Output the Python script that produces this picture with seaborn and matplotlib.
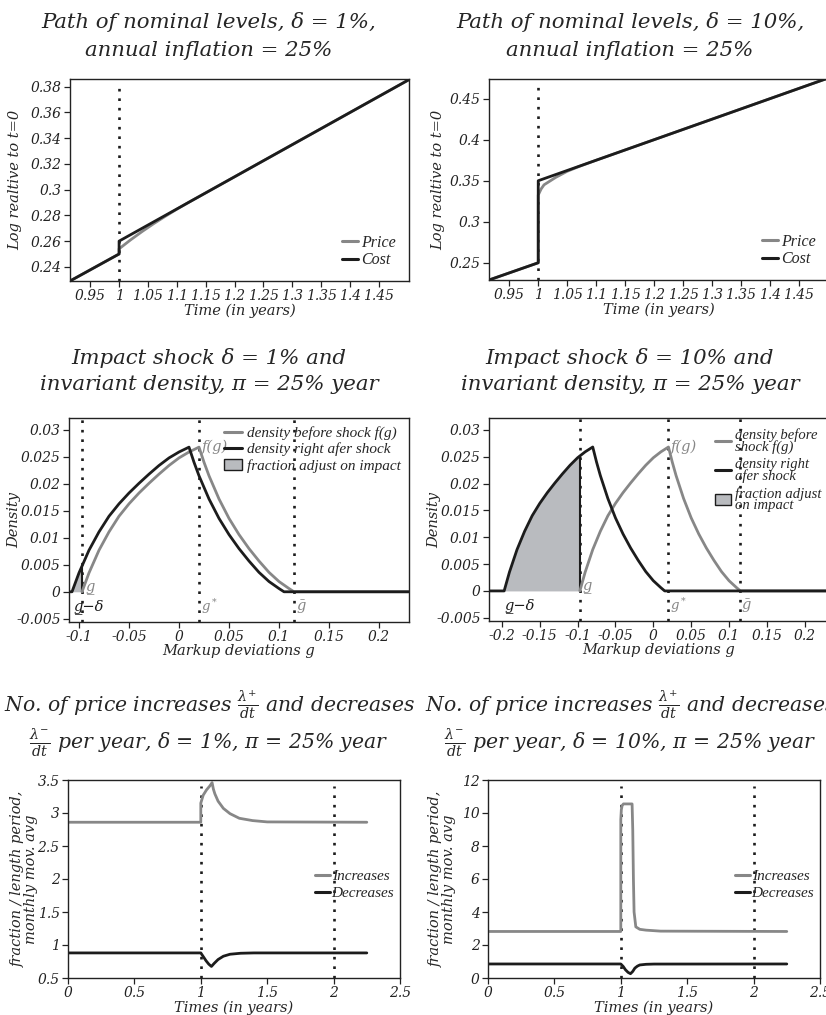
import numpy as np
import matplotlib
matplotlib.use('Agg')
import matplotlib.pyplot as plt
import seaborn as sns
from matplotlib.lines import Line2D
from matplotlib.patches import Patch
from matplotlib.ticker import FuncFormatter

# ---- data ----
# top row: log level relative to t=0
t_cost_1 = [0.915, 1.0, 1.0, 1.504]
cost_1 = [0.229, 0.25, 0.26, 0.386]
t_price_1 = [0.915, 1.0, 1.0, 1.01, 1.02, 1.04, 1.06, 1.08, 1.10, 1.12, 1.504]
price_1 = [0.229, 0.25, 0.254, 0.2575, 0.261, 0.2675, 0.2736, 0.2793, 0.2848, 0.29, 0.386]

t_cost_10 = [0.915, 1.0, 1.0, 1.504]
cost_10 = [0.229, 0.25, 0.35, 0.476]
t_price_10 = [0.915, 1.0, 1.0, 1.005, 1.01, 1.02, 1.03, 1.05, 1.07, 1.10, 1.504]
price_10 = [0.229, 0.25, 0.3325, 0.340, 0.345, 0.3495, 0.354, 0.3615, 0.3672, 0.375, 0.476]

# middle row: invariant density f(g) before the shock
g_pts = [-0.097, -0.09, -0.08, -0.07, -0.06, -0.05, -0.04, -0.03, -0.02, -0.01, 0.0, 0.01,
         0.02, 0.025, 0.03, 0.04, 0.05, 0.06, 0.07, 0.08, 0.09, 0.10, 0.11, 0.115]
dens = [0.0, 0.0035, 0.0077, 0.0111, 0.0140, 0.0163, 0.0183, 0.0201, 0.0218, 0.0234, 0.0248, 0.0259,
        0.0268, 0.0240, 0.0215, 0.0172, 0.0136, 0.0106, 0.0080, 0.0057, 0.0036, 0.0019, 0.0006, 0.0]
g_low, g_star, g_high = -0.097, 0.02, 0.115
deltas = [0.01, 0.10]

# bottom row: price increases / decreases per year
t_inc_1 = [0, 1.0, 1.0, 1.018, 1.043, 1.068, 1.085, 1.095, 1.106, 1.13, 1.17, 1.22, 1.29, 1.39, 1.5, 2.25]
inc_1 = [2.86, 2.86, 3.15, 3.27, 3.35, 3.41, 3.46, 3.36, 3.29, 3.18, 3.07, 2.99, 2.92, 2.885, 2.865, 2.86]
t_dec_1 = [0, 1.0, 1.02, 1.04, 1.06, 1.08, 1.1, 1.13, 1.17, 1.22, 1.3, 1.4, 2.25]
dec_1 = [0.88, 0.88, 0.82, 0.76, 0.71, 0.675, 0.72, 0.78, 0.83, 0.86, 0.875, 0.88, 0.88]

t_inc_10 = [0, 1.0, 1.0, 1.004, 1.01, 1.02, 1.085, 1.09, 1.095, 1.10, 1.113, 1.143, 1.19, 1.3, 2.25]
inc_10 = [2.82, 2.82, 9.6, 10.2, 10.45, 10.55, 10.55, 9.0, 6.0, 4.0, 3.1, 2.95, 2.9, 2.84, 2.82]
t_dec_10 = [0, 1.0, 1.018, 1.035, 1.055, 1.073, 1.09, 1.106, 1.125, 1.143, 1.19, 1.25, 2.25]
dec_10 = [0.85, 0.85, 0.70, 0.50, 0.34, 0.26, 0.40, 0.60, 0.72, 0.79, 0.83, 0.845, 0.85]

GREY = '#878787'
BLACK = '#1c1c1c'
FILL = '#b9bbbf'

sns.set_theme(style='ticks')
plt.rcParams['font.family'] = ['DejaVu Serif']
plt.rcParams['font.style'] = 'italic'
plt.rcParams['mathtext.fontset'] = 'dejavuserif'
plt.rcParams['axes.unicode_minus'] = False

fig = plt.figure(figsize=(8.26, 10.15), dpi=100)

W, H = 826, 1015
def add_ax(l, t, r, b):
    return fig.add_axes([l / W, 1 - b / H, (r - l) / W, (b - t) / H])

ax_tl = add_ax(70, 79, 409, 281)
ax_tr = add_ax(489, 79, 829, 280)
ax_ml = add_ax(69, 418, 409, 622)
ax_mr = add_ax(489, 418, 829, 621)
ax_bl = add_ax(68, 780, 400, 978)
ax_br = add_ax(488, 780, 820, 978)

fmt = FuncFormatter(lambda v, p: ('%g' % (round(v, 6) + 0.0)))

def style(ax):
    for s in ax.spines.values():
        s.set_linewidth(1.0)
        s.set_color('#222222')
    ax.tick_params(direction='out', length=4, width=0.9, labelsize=10, pad=2, colors='#222222')
    ax.xaxis.set_major_formatter(fmt)
    ax.yaxis.set_major_formatter(fmt)
    for lab in ax.get_xticklabels() + ax.get_yticklabels():
        lab.set_fontstyle('italic')

def vdot(ax, x, top=1.0):
    ax.axvline(x, ymin=0, ymax=top, color=BLACK, lw=1.9, ls=(0, (1, 2.6)), zorder=1)

LW = 2.0
LEGFONT = {'family': 'Liberation Serif', 'style': 'italic', 'size': 10.5}

# ---- top row ----
for ax, tp, pp, tc, cc, yt, ylim, ylx in [
        (ax_tl, t_price_1, price_1, t_cost_1, cost_1, np.arange(0.24, 0.381, 0.02), (0.229, 0.386), -0.142),
        (ax_tr, t_price_10, price_10, t_cost_10, cost_10, np.arange(0.25, 0.451, 0.05), (0.229, 0.474), -0.13)]:
    vdot(ax, 1.0, 0.97)
    sns.lineplot(x=tp, y=pp, ax=ax, color=GREY, lw=LW, estimator=None, sort=False)
    sns.lineplot(x=tc, y=cc, ax=ax, color=BLACK, lw=LW, estimator=None, sort=False)
    ax.set_xlim(0.915, 1.502)
    ax.set_ylim(*ylim)
    ax.set_xticks(np.arange(0.95, 1.451, 0.05))
    ax.set_yticks(yt)
    style(ax)
    ax.set_xlabel('Time (in years)', fontsize=10.5, labelpad=0)
    ax.set_ylabel('Log realtive to t=0', fontsize=10.5)
    ax.yaxis.set_label_coords(ylx, 0.5)
    ax.legend(handles=[Line2D([], [], color=GREY, lw=2.2, label='Price'),
                       Line2D([], [], color=BLACK, lw=2.2, label='Cost')],
              loc='lower right', frameon=False, prop=dict(LEGFONT, size=11.5), handlelength=1.0,
              handletextpad=0.2, labelspacing=0.1, borderaxespad=0.4)

# ---- middle row ----
g_arr = np.array(g_pts)
d_arr = np.array(dens)
for ax, delta, xlim, xt, wrap in [
        (ax_ml, deltas[0], (-0.11, 0.23), np.arange(-0.1, 0.201, 0.05), False),
        (ax_mr, deltas[1], (-0.217, 0.232), np.arange(-0.2, 0.201, 0.05), True)]:
    for gx in (g_low, g_star, g_high):
        vdot(ax, gx)
    # shaded fraction that adjusts on impact
    gs = g_arr - delta
    keep = gs <= g_low
    fx = np.append(gs[keep], g_low)
    fy = np.append(d_arr[keep], np.interp(g_low, gs, d_arr))
    ax.fill_between(fx, 0, fy, color=FILL, lw=0, zorder=2)
    ax.plot([g_low, g_low], [0, fy[-1]], color=BLACK, lw=1.5, zorder=3)
    sns.lineplot(x=list(g_arr) + [xlim[1]], y=list(d_arr) + [0.0], ax=ax, color=GREY, lw=LW,
                 estimator=None, sort=False, zorder=3)
    sns.lineplot(x=[xlim[0]] + list(gs) + [xlim[1]], y=[0.0] + list(d_arr) + [0.0], ax=ax,
                 color=BLACK, lw=LW, estimator=None, sort=False, zorder=4)
    ax.set_xlim(*xlim)
    ax.set_ylim(-0.0056, 0.0322)
    ax.set_xticks(xt)
    ax.set_yticks(np.arange(-0.005, 0.0301, 0.005))
    style(ax)
    ax.set_xlabel('Markup deviations g', fontsize=10.5, labelpad=0)
    ax.set_ylabel('Density', fontsize=10.5)
    ax.yaxis.set_label_coords(-0.14, 0.5)
    ax.text(g_star + 0.003, 0.0268, 'f(g)', color=GREY, fontsize=10.5, va='center', ha='left')
    ax.text(g_low + 0.003, 0.0009, 'g\u0332', color=GREY, fontsize=10.5, va='center', ha='left')
    ax.text(g_star + 0.002, -0.0027, '$g^*$', color=GREY, fontsize=9.5, va='center', ha='left')
    ax.text(g_high + 0.002, -0.0027, '\u1e21', color=GREY, fontsize=10.5, va='center', ha='left')
    ax.text(g_low - delta + 0.001, -0.0027, 'g\u0332\u2212\u03b4', color=BLACK, fontsize=10.5,
            va='center', ha='left')
    if wrap:
        labs = ['density before\nshock f(g)', 'density right\nafer shock', 'fraction adjust\non impact']
        leg = ax.legend(handles=[Line2D([], [], color=GREY, lw=2.2, label=labs[0]),
                                 Line2D([], [], color=BLACK, lw=2.2, label=labs[1]),
                                 Patch(facecolor=FILL, edgecolor=BLACK, label=labs[2])],
                        loc='upper right', bbox_to_anchor=(1.008, 1.0), frameon=False,
                        prop=LEGFONT, handlelength=1.1, handletextpad=0.3, labelspacing=0.3,
                        borderaxespad=0.3)
        for t in leg.get_texts():
            t.set_linespacing(0.8)
    else:
        labs = ['density before shock f(g)', 'density right afer shock', 'fraction adjust on impact']
        ax.legend(handles=[Line2D([], [], color=GREY, lw=2.2, label=labs[0]),
                           Line2D([], [], color=BLACK, lw=2.2, label=labs[1]),
                           Patch(facecolor=FILL, edgecolor=BLACK, label=labs[2])],
                  loc='upper right', bbox_to_anchor=(1.0, 1.0), frameon=False,
                  prop=dict(LEGFONT, size=11), handlelength=1.2, handletextpad=0.3,
                  labelspacing=0.15, borderaxespad=0.15)

# ---- bottom row ----
for ax, ti, vi, td, vd, ylim, yt, ylx in [
        (ax_bl, t_inc_1, inc_1, t_dec_1, dec_1, (0.5, 3.5), np.arange(0.5, 3.51, 0.5), -0.09),
        (ax_br, t_inc_10, inc_10, t_dec_10, dec_10, (0, 12), np.arange(0, 12.1, 2), -0.096)]:
    vdot(ax, 1.0, 0.97)
    vdot(ax, 2.0, 0.97)
    sns.lineplot(x=ti, y=vi, ax=ax, color=GREY, lw=LW, estimator=None, sort=False)
    sns.lineplot(x=td, y=vd, ax=ax, color=BLACK, lw=LW, estimator=None, sort=False)
    ax.set_xlim(0, 2.5)
    ax.set_ylim(*ylim)
    ax.set_xticks(np.arange(0, 2.51, 0.5))
    ax.set_yticks(yt)
    style(ax)
    ax.set_xlabel('Times (in years)', fontsize=10.5, labelpad=0)
    ax.set_ylabel('fraction / length period,\nmonthly mov. avg', fontsize=10.5, linespacing=0.95)
    ax.yaxis.set_label_coords(ylx, 0.5)
    ax.legend(handles=[Line2D([], [], color=GREY, lw=2.2, label='Increases'),
                       Line2D([], [], color=BLACK, lw=2.2, label='Decreases')],
              loc='center left', bbox_to_anchor=(0.725, 0.47), frameon=False, borderaxespad=0,
              prop=dict(LEGFONT, size=11), handlelength=1.0, handletextpad=0.1, labelspacing=0.2)

# ---- titles ----
def title(xc, y, s, size=15.3):
    fig.text(xc / W, 1 - y / H, s, ha='center', va='center', fontsize=size, style='italic')

title(209, 22, 'Path of nominal levels, δ = 1%,')
title(209, 50, 'annual inflation = 25%')
title(630, 22, 'Path of nominal levels, δ = 10%,')
title(630, 50, 'annual inflation = 25%')
title(209, 358, 'Impact shock δ = 1% and')
title(209, 385, 'invariant density, π = 25% year')
title(630, 358, 'Impact shock δ = 10% and')
title(630, 385, 'invariant density, π = 25% year')
title(209, 705, r'No. of price increases $\frac{\lambda^{+}}{dt}$ and decreases', 14.7)
title(209, 743, r'$\frac{\lambda^{-}}{dt}$ per year, δ = 1%, π = 25% year', 14.7)
title(630, 705, r'No. of price increases $\frac{\lambda^{+}}{dt}$ and decreases', 14.7)
title(630, 743, r'$\frac{\lambda^{-}}{dt}$ per year, δ = 10%, π = 25% year', 14.7)

fig.savefig('out.png', dpi=100)
